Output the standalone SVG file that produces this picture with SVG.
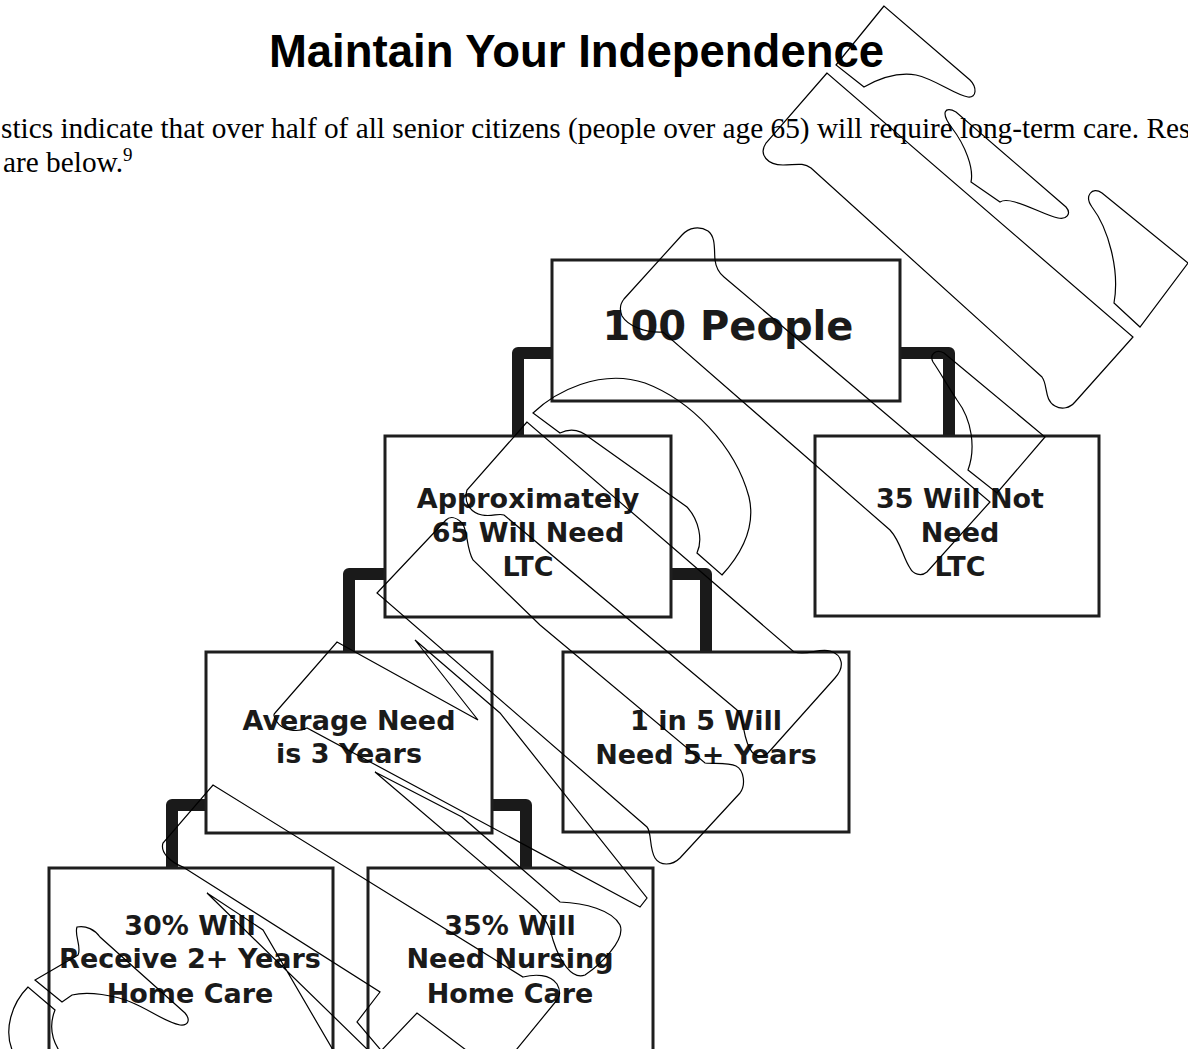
<svg xmlns="http://www.w3.org/2000/svg" width="1188" height="1049" viewBox="0 0 1188 1049">
<style>
.box{fill:#fff;stroke:#1e1e1e;stroke-width:3}
.conn{fill:none;stroke:#1a1a1a;stroke-width:12;stroke-linejoin:round}
.lbl{font-family:"DejaVu Sans",Verdana,sans-serif;font-weight:bold;font-size:27px;fill:#1a1a1a;text-anchor:middle}
.scr{fill:none;stroke:#000;stroke-width:1.2;stroke-linejoin:miter}
</style>
<rect width="1188" height="1049" fill="#fff"/>
<text x="576.5" y="67" font-family="Liberation Sans, Arial, sans-serif" font-weight="bold" font-size="45.5" text-anchor="middle" fill="#000">Maintain Your Independence</text>
<text x="1" y="138" font-family="Liberation Serif, Times New Roman, serif" font-size="29.3" fill="#000">stics indicate that over half of all senior citizens (people over age 65) will require long-term care. Res</text>
<text x="3" y="172" font-family="Liberation Serif, Times New Roman, serif" font-size="29.3" fill="#000">are below.<tspan font-size="19" dy="-11">9</tspan></text>
<g id="connectors">
<path class="conn" d="M552,353 H518 V437"/>
<path class="conn" d="M900,353 H949 V437"/>
<path class="conn" d="M385,574 H349 V653"/>
<path class="conn" d="M671,574 H706 V653"/>
<path class="conn" d="M206,805 H172 V869"/>
<path class="conn" d="M492,805 H526 V869"/>
</g>
<g id="n100">
<rect class="box" x="552" y="260" width="348" height="141"/>
<text class="lbl" x="728" y="340" style="font-size:40px">100 People</text>
</g>
<g id="n65">
<rect class="box" x="385" y="436" width="286" height="181"/>
<text class="lbl" x="528" y="508">Approximately</text>
<text class="lbl" x="528" y="542">65 Will Need</text>
<text class="lbl" x="528" y="576">LTC</text>
</g>
<g id="n35">
<rect class="box" x="815" y="436" width="284" height="180"/>
<text class="lbl" x="960" y="508">35 Will Not</text>
<text class="lbl" x="960" y="542">Need</text>
<text class="lbl" x="960" y="576">LTC</text>
</g>
<g id="navg">
<rect class="box" x="206" y="652" width="286" height="181"/>
<text class="lbl" x="349" y="730">Average Need</text>
<text class="lbl" x="349" y="763">is 3 Years</text>
</g>
<g id="n1in5">
<rect class="box" x="563" y="652" width="286" height="180"/>
<text class="lbl" x="706" y="730">1 in 5 Will</text>
<text class="lbl" x="706" y="764">Need 5+ Years</text>
</g>
<g id="n30">
<rect class="box" x="49" y="868" width="284" height="190"/>
<text class="lbl" x="190" y="935">30% Will</text>
<text class="lbl" x="190" y="968">Receive 2+ Years</text>
<text class="lbl" x="190" y="1003">Home Care</text>
</g>
<g id="n35b">
<rect class="box" x="368" y="868" width="285" height="190"/>
<text class="lbl" x="510" y="935">35% Will</text>
<text class="lbl" x="510" y="968">Need Nursing</text>
<text class="lbl" x="510" y="1003">Home Care</text>
</g>
<g id="overlay">
<path class="scr" d="M884,6 L836,65 L864,87 C880,78 898,72 916,75 C935,79 955,95 968,97 C977,98 977,87 970,80 Z"/>
<path class="scr" d="M827,73 L766,143 C758,155 768,165 783,165 C795,165 803,162 811,168 L1042,377 C1048,385 1044,400 1055,406 C1062,410 1070,408 1075,402 L1133,337 Z"/>
<path class="scr" d="M971,182 C974,168 965,145 952,128 C940,112 945,106 956,112 L1066,207 C1072,214 1066,220 1058,218 C1045,215 1030,206 1015,202 C1008,200 1003,200 1000,202 Z"/>
<path class="scr" d="M1102,193 L1188,263 L1140,327 L1114,303 C1120,270 1108,228 1092,207 C1084,196 1092,186 1102,193 Z"/>
<path class="scr" d="M724,277 L990,502 L927,572 C921,577 913,574 910,568 C903,558 901,542 890,530 L663,332 C645,333 628,326 622,316 C619,309 620,304 624,299 L682,235 C689,227 700,226 708,231 C716,237 714,250 715,260 C716,268 719,273 724,277 Z"/>
<path class="scr" d="M944,353 L1045,437 L997,493 L968,470 C976,448 972,420 957,400 C947,385 940,372 933,362 C929,354 936,349 944,353 Z"/>
<path class="scr" d="M533,413 C555,392 600,368 645,383 C690,400 735,445 749,497 C756,527 742,553 722,575 L697,553 C703,540 699,520 687,507 L590,438 C582,431 572,427 560,433 Z"/>
<path class="scr" d="M527,422 L467,490 C464,500 468,512 482,515 C492,517 498,513 504,515 L737,710 C745,718 742,740 752,752 C758,758 764,757 768,753 L835,678 C845,667 843,655 830,651 C818,648 808,656 794,652 Z"/>
<path class="scr" d="M446,520 L377,593 L647,827 C652,833 649,848 655,858 C660,866 672,866 680,858 L740,793 C746,785 744,770 736,766 C728,762 715,764 705,763 L540,625 L473,560 C466,548 468,530 462,523 C456,517 450,516 446,520 Z"/>
<path class="scr" d="M337,642 L478,720 L415,640 L500,713 L647,898 L640,907 L307,728 C297,733 282,730 277,722 C274,716 273,715 275,713 Z"/>
<path class="scr" d="M375,772 L462,817 L560,902 C585,903 612,910 620,925 C626,940 600,965 585,975 C572,980 560,962 553,940 C551,930 545,918 537,910 Z"/>
<path class="scr" d="M385,1055 L357,1022 L380,992 L183,867 C170,862 160,852 163,843 L213,785 L523,977 C535,974 550,974 557,984 C561,991 560,997 557,1000 L512,1055"/>
<path class="scr" d="M333,1050 L263,930 L207,893 L370,1052"/>
<path class="scr" d="M77,927 C86,925 95,930 100,937 L185,1013 C191,1020 188,1026 180,1025 C165,1022 150,1010 133,1003 C115,995 88,991 72,995 L62,1002 L35,980 L78,955 C82,947 74,935 77,927 Z"/>
<path class="scr" d="M13,1052 C3,1030 12,1003 28,987 L55,1010 C49,1025 52,1040 60,1052"/>
<path class="scr" d="M380,1052 L417,1013 L466,1050"/>
</g>
</svg>
